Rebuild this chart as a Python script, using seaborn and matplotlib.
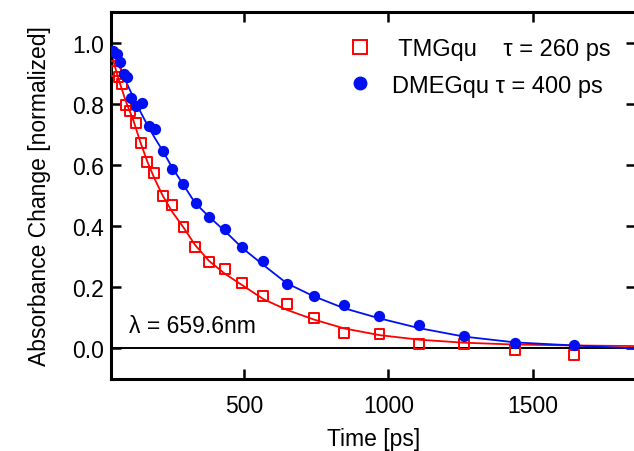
import matplotlib
matplotlib.use("Agg")
import matplotlib.pyplot as plt
import seaborn as sns
import pandas as pd
from matplotlib.lines import Line2D

# ---- data ----
red_t = [47, 57, 65, 76, 91, 105, 125, 142, 165, 188, 218, 250, 290, 330, 379,
         434, 493, 567, 650, 742, 847, 969, 1106, 1263, 1439, 1644]
red_y = [0.958, 0.909, 0.888, 0.866, 0.797, 0.778, 0.738, 0.671, 0.609, 0.574,
         0.499, 0.469, 0.398, 0.332, 0.283, 0.259, 0.212, 0.170, 0.145, 0.097,
         0.049, 0.045, 0.012, 0.012, -0.006, -0.023]

blue_t = [45, 59, 71, 84, 96, 109, 126, 146, 169, 192, 218, 252, 290, 333, 379,
          434, 493, 567, 650, 742, 847, 969, 1106, 1263, 1439, 1644]
blue_y = [0.975, 0.964, 0.937, 0.898, 0.888, 0.819, 0.792, 0.803, 0.727, 0.718,
          0.647, 0.587, 0.537, 0.475, 0.430, 0.390, 0.331, 0.286, 0.210, 0.171,
          0.141, 0.106, 0.075, 0.038, 0.016, 0.011]

# fit curves
red_fit_t = [40, 65, 90, 117, 140, 165, 190, 218, 250, 288, 330, 379, 434, 495,
             567, 648, 742, 847, 969, 1106, 1263, 1440, 1644, 1860]
red_fit_y = [0.965, 0.882, 0.81, 0.745, 0.677, 0.611, 0.555, 0.50, 0.448, 0.398,
             0.338, 0.285, 0.243, 0.205, 0.160, 0.125, 0.093, 0.064, 0.042, 0.027,
             0.017, 0.011, 0.008, 0.006]

blue_fit_t = [40, 70, 100, 130, 160, 190, 218, 252, 288, 330, 379, 434, 495, 567,
              648, 740, 847, 969, 1106, 1263, 1440, 1644, 1860]
blue_fit_y = [0.99, 0.92, 0.855, 0.795, 0.74, 0.69, 0.647, 0.59, 0.538, 0.476,
              0.43, 0.383, 0.327, 0.272, 0.212, 0.170, 0.130, 0.097, 0.065, 0.037,
              0.018, 0.008, -0.002]

labels = ["TMGqu", "DMEGqu"]
taus = ["260 ps", "400 ps"]
x_ticks = [500, 1000, 1500]
y_ticks = [0.0, 0.2, 0.4, 0.6, 0.8, 1.0]

RED = "#ff0000"
BLUE = "#0010f0"

sns.set_style("ticks")
plt.rcParams["font.family"] = ["Liberation Sans", "DejaVu Sans"]
plt.rcParams.update({"text.color": "black", "axes.labelcolor": "black",
                     "xtick.color": "black", "ytick.color": "black",
                     "axes.edgecolor": "black"})

FS = 16.5

fig = plt.figure(figsize=(6.34, 4.52), dpi=100)
ax = fig.add_axes([111 / 634, 1 - 380 / 452, 525 / 634, 367 / 452])

df_red = pd.DataFrame({"t": red_t, "y": red_y})
df_blue = pd.DataFrame({"t": blue_t, "y": blue_y})
df_rf = pd.DataFrame({"t": red_fit_t, "y": red_fit_y})
df_bf = pd.DataFrame({"t": blue_fit_t, "y": blue_fit_y})

ax.axhline(0, color="black", lw=1.4, zorder=1)

sns.lineplot(data=df_rf, x="t", y="y", ax=ax, color=RED, lw=1.3,
             sort=False, estimator=None, zorder=2)
sns.lineplot(data=df_bf, x="t", y="y", ax=ax, color=BLUE, lw=1.3,
             sort=False, estimator=None, zorder=2)
sns.scatterplot(data=df_red, x="t", y="y", ax=ax, marker="s", s=50,
                facecolor="none", edgecolor=RED, linewidth=1.4, zorder=3)
sns.scatterplot(data=df_blue, x="t", y="y", ax=ax, marker="o", s=66,
                color=BLUE, edgecolor=BLUE, linewidth=0, zorder=4)

ax.set_xlim(39, 1858)
ax.set_ylim(-0.102, 1.102)
ax.set_xticks(x_ticks)
ax.set_yticks(y_ticks)
ax.set_yticklabels([f"{v:.1f}" for v in y_ticks])
ax.tick_params(direction="in", length=7, width=1.8, labelsize=FS,
               top=True, right=True)
ax.tick_params(axis="x", pad=11)
ax.tick_params(axis="y", pad=5)
for sp in ax.spines.values():
    sp.set_linewidth(2.2)
    sp.set_visible(True)
    sp.set_color("black")

ax.set_xlabel("Time [ps]", fontsize=FS, labelpad=7)
ax.set_ylabel("Absorbance Change [normalized]", fontsize=FS, labelpad=15)

ax.text(103, 0.073, "λ = 659.6nm", fontsize=FS, ha="left", va="center",
        transform=ax.transData)

handles = [
    Line2D([], [], marker="s", ls="none", markersize=9.5, markerfacecolor="none",
           markeredgecolor=RED, markeredgewidth=1.4),
    Line2D([], [], marker="o", ls="none", markersize=9, markerfacecolor=BLUE,
           markeredgecolor=BLUE),
]
leg_labels = [" " + labels[0] + "    τ = " + taus[0],
              labels[1] + " τ = " + taus[1]]
ax.legend(handles, leg_labels, loc="upper left",
          bbox_to_anchor=((333 - 111) / 525, (380 - 30) / 367),
          frameon=False, fontsize=17, handletextpad=0.6, labelspacing=0.6,
          borderaxespad=0, handlelength=1.5)

fig.savefig("out.png", dpi=100)
